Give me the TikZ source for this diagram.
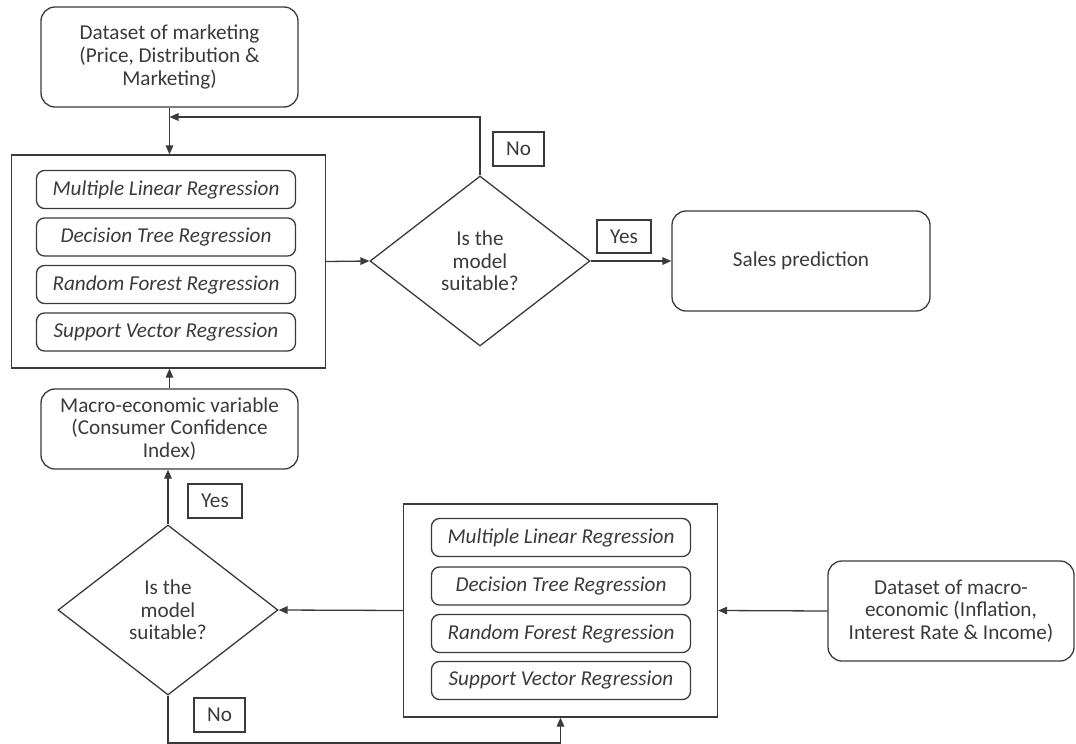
\documentclass[tikz,border=0pt]{standalone}
\usepackage{fontspec}
\setmainfont{Carlito}
\usetikzlibrary{shapes.geometric,arrows.meta}
\definecolor{ink}{HTML}{3A3A3A}
\newcommand{\basefont}{\fontsize{10.6}{11.3}\selectfont}
\tikzset{
	every node/.style={font=\basefont, text=ink},
	rbox/.style={draw=ink, rounded corners=7pt, align=center, inner sep=0pt},
	mbox/.style={draw=ink, rounded corners=4pt, minimum width=129.5pt, minimum height=19pt, inner sep=0pt, font=\basefont\itshape},
	frame/.style={draw=ink, minimum width=157pt, minimum height=106.5pt, inner sep=0pt},
	decide/.style={draw=ink, diamond, minimum width=110pt, minimum height=85pt, inner sep=0pt, align=center},
	tag/.style={draw=ink, inner sep=0pt},
	arr/.style={draw=ink, -{Triangle[length=4.5pt,width=3.8pt]}},
}
\begin{document}
\begin{tikzpicture}[x=0.5pt, y=-0.5pt, line width=0.65pt]
		\useasboundingbox (0,0) rectangle (1076,744);

		% upper part
		\node (data) at (169.5,57) [rbox, minimum width=128.5pt, minimum height=50pt] {Dataset of marketing\\(Price, Distribution \&\\Marketing)};
		\node (frame1) at (168.5,261.5) [frame] {};
		\node (m1) at (166,189.5) [mbox] {Multiple Linear Regression};
		\node (m2) at (166,237) [mbox] {Decision Tree Regression};
		\node (m3) at (166,284.5) [mbox] {Random Forest Regression};
		\node (m4) at (166,332) [mbox] {Support Vector Regression};
		\node (d1) at (480,261) [decide] {Is the\\model\\suitable?};
		\node (no1) at (518.5,149) [tag, minimum width=25.5pt, minimum height=17pt] {No};
		\node (yes1) at (624,236.5) [tag, minimum width=27pt, minimum height=16.5pt] {Yes};
		\node (sales) at (801,261) [rbox, minimum width=129pt, minimum height=50pt] {Sales prediction};
		\node (macro) at (169.5,429) [rbox, minimum width=128.5pt, minimum height=40pt] {Macro-economic variable\\(Consumer Confidence\\Index)};

		% lower part
		\node (d2) at (168,610) [decide] {Is the\\model\\suitable?};
		\node (yes2) at (215,501) [tag, minimum width=27pt, minimum height=17pt] {Yes};
		\node (no2) at (219.5,715) [tag, minimum width=25.5pt, minimum height=17pt] {No};
		\node (frame2) at (560.5,610.5) [frame] {};
		\node (n1) at (561,537.5) [mbox] {Multiple Linear Regression};
		\node (n2) at (561,586) [mbox] {Decision Tree Regression};
		\node (n3) at (561,633.5) [mbox] {Random Forest Regression};
		\node (n4) at (561,680.5) [mbox] {Support Vector Regression};
		\node (data2) at (951,611) [rbox, minimum width=123pt, minimum height=50pt] {Dataset of macro-\\economic (Inflation,\\Interest Rate \& Income)};

		\coordinate (back) at (169.5,117);
		\coordinate (floor) at (168,743);

		\draw[arr] (data.south) -- (data.south |- frame1.north);
		\draw[arr] (d1.north) |- (back);
		\draw[arr] (frame1.east) -- (d1.west);
		\draw[arr] (d1.east) -- (sales.west);
		\draw[arr] (macro.north) -- (macro.north |- frame1.south);
		\draw[arr] (d2.north) -- (d2.north |- macro.south);
		\draw[arr] (frame2.west) -- (d2.east);
		\draw[arr] (data2.west) -- (frame2.east);
		\draw[arr] (d2.south) -- (floor) -| (frame2.south);
	\end{tikzpicture}
\end{document}
